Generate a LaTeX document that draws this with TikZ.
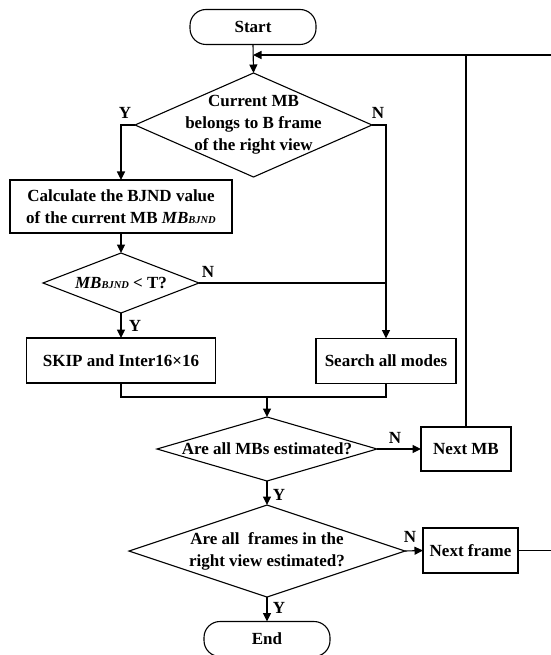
\documentclass[tikz,border=0pt]{standalone}
\usepackage{fontspec}
\setmainfont{Liberation Serif}
\usetikzlibrary{shapes.geometric,arrows.meta}
\newcommand{\sbj}{{\fontsize{10.5}{10.5}\selectfont\itshape BJND}}
\begin{document}
\begin{tikzpicture}[x=1pt,y=-1pt,
  every node/.style={font=\fontsize{17}{22}\selectfont\bfseries},
  conn/.style={line width=1.1pt},
  arr/.style={conn,-{Triangle[length=8.5pt,width=8pt]}},
  proc/.style={draw,line width=1.1pt,rectangle,inner sep=0pt,outer sep=0pt,align=center},
  term/.style={draw,line width=1.1pt,rectangle,rounded corners=16pt,inner sep=0pt,outer sep=0pt,minimum width=126pt,minimum height=35pt},
  dec/.style={draw,line width=1.1pt,diamond,inner sep=0pt,outer sep=0pt},
  txt/.style={align=center,inner sep=0pt},
  yn/.style={inner sep=0pt}]
\useasboundingbox (0,0) rectangle (550,655);
\node[term] (start) at (253,27) {Start};
\node[dec,minimum width=237pt,minimum height=104pt,
  label={[txt]center:Current MB\\belongs to B frame\\of the right view}] (d1) at (253.5,125) {};
\node[proc,minimum width=222pt,minimum height=53pt] (calc) at (121,206.5)
  {Calculate the BJND value\\of the current MB \textit{MB}\sbj};
\node[dec,minimum width=156pt,minimum height=60pt,
  label={[txt]center:\textit{MB}\sbj{} < T?}] (d2) at (121,283) {};
\node[proc,minimum width=189pt,minimum height=45pt] (skip) at (121,360.5) {SKIP and Inter16×16};
\node[proc,minimum width=140pt,minimum height=45pt] (search) at (386,361) {Search all modes};
\node[dec,minimum width=220pt,minimum height=64pt,
  label={[txt]center:Are all MBs estimated?}] (d3) at (267,449) {};
\node[proc,minimum width=90pt,minimum height=44pt] (nextmb) at (466,449) {Next MB};
\node[dec,minimum width=276pt,minimum height=92pt,
  label={[txt]center:Are all\ \ frames in the\\right view estimated?}] (d4) at (267,551) {};
\node[proc,minimum width=95pt,minimum height=45pt] (nextframe) at (470.5,550.5) {Next frame};
\node[term] (end) at (267,639) {End};

\coordinate (loopin) at (253,55);
\coordinate (loopmb) at (466,55);
\coordinate (farR) at (553,55);
\coordinate (merge) at (267,397);

\draw[arr] (start.south) -- (d1.north);
\draw[arr] (d1.west) -| (calc.north);
\draw[arr] (d1.east) -| (search.north);
\draw[arr] (calc.south) -- (d2.north);
\draw[conn] (d2.east) -- (d2.east -| search.north);
\draw[arr] (d2.south) -- (skip.north);
\draw[conn] (skip.south) |- (merge) -| (search.south);
\draw[arr] (merge) -- (d3.north);
\draw[arr] (d3.east) -- (nextmb.west);
\draw[arr] (nextmb.north) -- (loopmb) -- (loopin);
\draw[arr] (d3.south) -- (d4.north);
\draw[arr] (d4.east) -- (nextframe.west);
\draw[conn] (nextframe.east) -- (nextframe.east -| farR) -- (farR) -- (loopmb);
\draw[arr] (d4.south) -- (end.north);

\node[yn] (y1) at (125,113) {Y};
\node[yn] (n1) at (378,113) {N};
\node[yn] (n2) at (208,272) {N};
\node[yn] (y2) at (135,326) {Y};
\node[yn] (n3) at (395,438) {N};
\node[yn] (y3) at (279,495) {Y};
\node[yn] (n4) at (410,537) {N};
\node[yn] (y4) at (279,608) {Y};
\end{tikzpicture}
\end{document}
